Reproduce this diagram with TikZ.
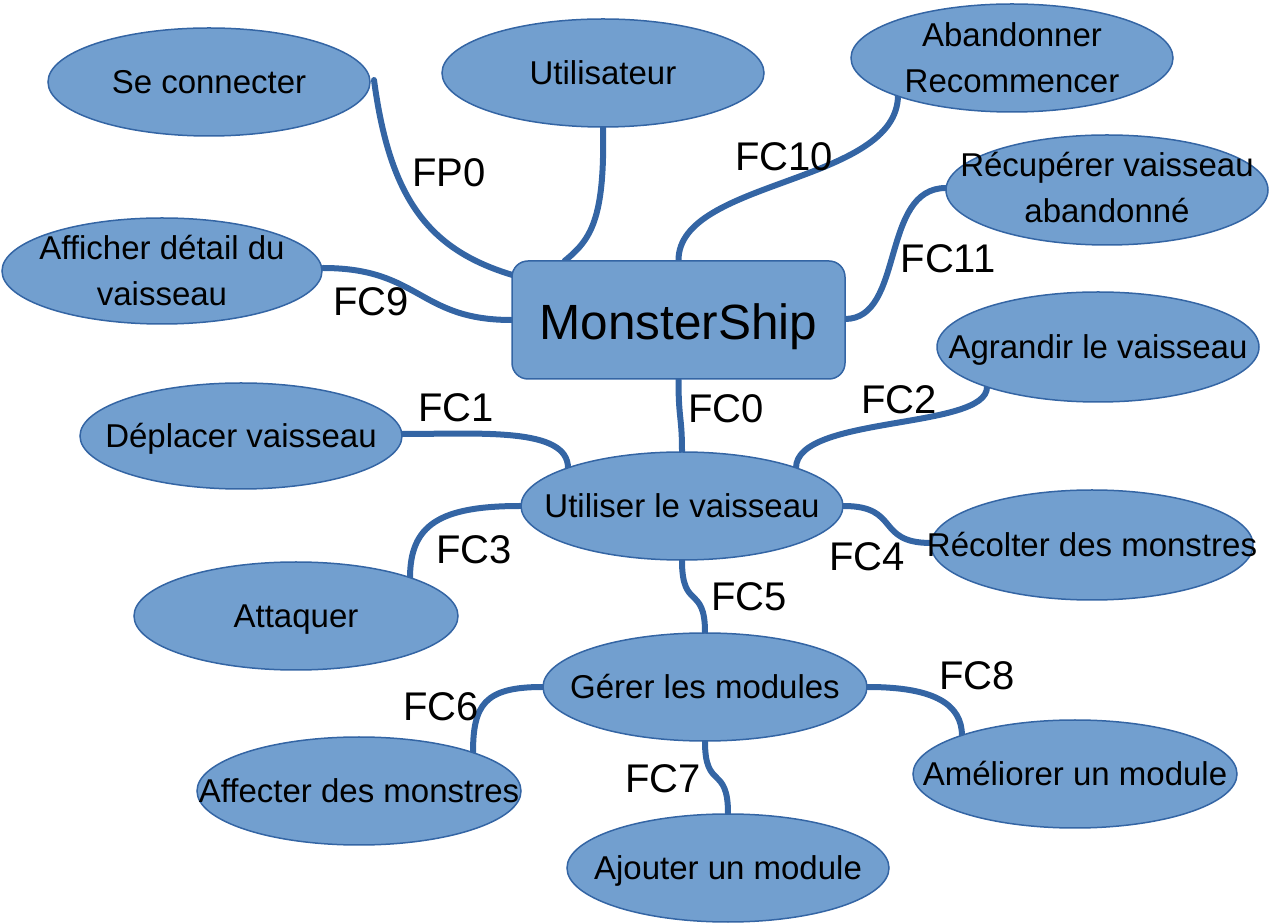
\documentclass[tikz,border=0pt]{standalone}
\usepackage{fontspec}
\setmainfont{Liberation Sans}
\usetikzlibrary{backgrounds,shapes.geometric}
\definecolor{bfill}{HTML}{729FCF}
\definecolor{bline}{HTML}{3465A4}
\begin{document}
\begin{tikzpicture}[x=0.5pt,y=-0.5pt,
  bub/.style={ellipse,draw=bline,line width=0.75pt,fill=bfill,inner sep=0pt,minimum width=161pt,minimum height=54pt},
  txt/.style={font=\fontsize{16.5}{23}\selectfont,align=center,inner sep=0pt},
  txtone/.style={font=\fontsize{16.5}{23}\selectfont,inner sep=0pt,text height=11.8pt,text depth=0pt},
  lab/.style={font=\fontsize{20}{24}\selectfont,inner sep=0pt},
  con/.style={draw=bline,line width=3pt,line cap=round}]
\useasboundingbox (0,0) rectangle (1270,924);
% bubbles
\node[bub] (se)  at (209,82)  {};
\node[bub] (ut)  at (603,73)  {};
\node[bub] (ab)  at (1012,58) {};
\node[bub,minimum height=55pt] (rec) at (1107,190) {};
\node[bub,minimum width=160pt,minimum height=53pt] (aff) at (162,271) {};
\node[rectangle,rounded corners=8pt,draw=bline,line width=0.75pt,fill=bfill,minimum width=166.5pt,minimum height=59pt,inner sep=0pt] (ms) at (678.5,320) {};
\node[bub,minimum height=55pt] (agr) at (1098,347) {};
\node[bub,minimum height=53pt] (dep) at (241,436) {};
\node[bub] (uti) at (682,506) {};
\node[bub,minimum height=55pt] (rco) at (1092,545) {};
\node[bub,minimum width=162pt] (att) at (296,616) {};
\node[bub,minimum width=162pt] (ger) at (705,687) {};
\node[bub,minimum width=162pt] (ame) at (1075,774) {};
\node[bub,minimum width=162pt] (afm) at (359,791) {};
\node[bub] (aj)  at (728,868) {};
% texts
\node[txtone] (t-se)  at (se)  {Se connecter};
\node[txtone] (t-ut)  at (ut)  {Utilisateur};
\node[txt] (t-ab)  at (ab)  {Abandonner\\Recommencer};
\node[txt] (t-rec) at ([yshift=1pt]rec.center) {Récupérer vaisseau\\abandonné};
\node[txt] (t-aff) at (aff) {Afficher détail du\\vaisseau};
\node[inner sep=0pt,font=\fontsize{24.75}{30}\selectfont,text height=17.7pt,text depth=0pt] (t-ms) at ([yshift=-1pt]ms.center) {MonsterShip};
\node[txtone] (t-agr) at (agr) {Agrandir le vaisseau};
\node[txtone] (t-dep) at (dep) {Déplacer vaisseau};
\node[txtone] (t-uti) at (uti) {Utiliser le vaisseau};
\node[txtone] (t-rco) at (rco) {Récolter des monstres};
\node[txtone] (t-att) at (att) {Attaquer};
\node[txtone] (t-ger) at (ger) {Gérer les modules};
\node[txtone] (t-ame) at (ame) {Améliorer un module};
\node[txtone] (t-afm) at (afm) {Affecter des monstres};
\node[txtone] (t-aj)  at (aj)  {Ajouter un module};
% connectors
\begin{pgfonlayer}{background}
\draw[con] ([shift={(165,-2)}]se.center) .. controls +(16,120) and +(-83,-25) .. ([shift={(-166,-45)}]ms.center);
\draw[con] ([shift={(0,54)}]ut.center) .. controls +(2,93) and +(26,-21) .. ([shift={(-114,-59)}]ms.center);
\draw[con] (ms.north) .. controls +(0,-81) and +(0,89) .. ([shift={(-114,37)}]ab.center);
\draw[con] ([shift={(166.5,-1)}]ms.center) .. controls +(60,0) and +(-66,0) .. ([shift={(-161,-2)}]rec.center);
\draw[con] ([shift={(161,-3)}]aff.center) .. controls +(97,0) and +(-93,0) .. (ms.west);
\draw[con] (ms.south) .. controls +(0,40) and +(0,-35) .. (uti.north);
\draw[con] ([shift={(161,-2)}]dep.center) .. controls +(78,0) and +(0,-41) .. ([shift={(-114,-38)}]uti.center);
\draw[con] ([shift={(114,-38)}]uti.center) .. controls +(0,-53) and +(0,43) .. ([shift={(-111,40)}]agr.center);
\draw[con] (uti.west) .. controls +(-81,0) and +(0,-53) .. ([shift={(114,-38)}]att.center);
\draw[con] (uti.east) .. controls +(57,0) and +(-56,0) .. ([shift={(-161,-2)}]rco.center);
\draw[con] (uti.south) .. controls +(0,50) and +(0,-48) .. (ger.north);
\draw[con] (ger.west) .. controls +(-58,0) and +(0,-48) .. ([shift={(114,-38)}]afm.center);
\draw[con] (ger.south) .. controls +(0,49) and +(0,-49) .. (aj.north);
\draw[con] (ger.east) .. controls +(68,0) and +(0,-31) .. ([shift={(-113,-38)}]ame.center);
\end{pgfonlayer}
% labels
\node[lab] (l-fp0)  at (449,173) {FP0};
\node[lab] (l-fc10) at (784,157) {FC10};
\node[lab] (l-fc11) at (948,259) {FC11};
\node[lab] (l-fc9)  at (371,302) {FC9};
\node[lab] (l-fc0)  at (726,409) {FC0};
\node[lab] (l-fc1)  at (456,408) {FC1};
\node[lab] (l-fc2)  at (899,400) {FC2};
\node[lab] (l-fc3)  at (474,550) {FC3};
\node[lab] (l-fc4)  at (867,557) {FC4};
\node[lab] (l-fc5)  at (749,597) {FC5};
\node[lab] (l-fc6)  at (441,707) {FC6};
\node[lab] (l-fc7)  at (663,779) {FC7};
\node[lab] (l-fc8)  at (977,676) {FC8};
\end{tikzpicture}
\end{document}
